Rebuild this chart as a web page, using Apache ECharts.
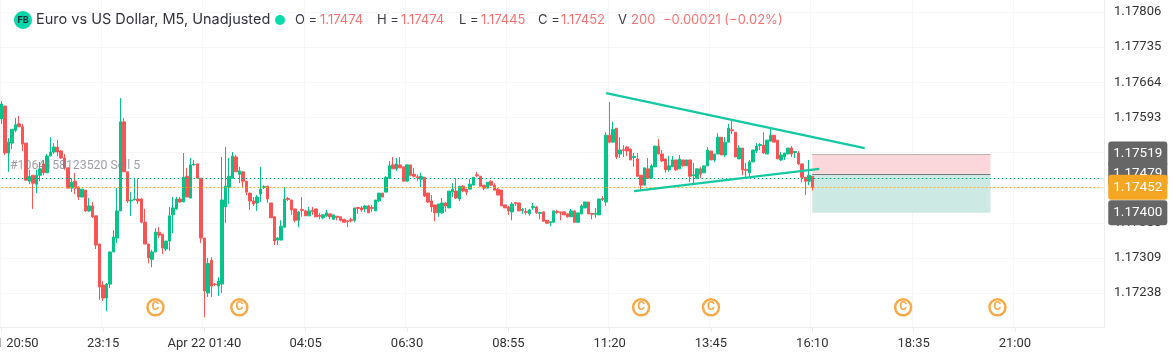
<!DOCTYPE html>
<html>
	<head>
		<meta charset="utf-8" />
		<title>EURUSD M5</title>
		<script src="https://cdn.jsdelivr.net/npm/echarts@6/dist/echarts.min.js"></script>
		<style>
			html, body { margin: 0; padding: 0; background: #fff; }
			#chart { width: 1172px; height: 358px; }
		</style>
	</head>
	<body>
		<div id="chart"></div>
	</body>
	<script type="text/javascript">
	// prices are kept as points above 1.17000 (590 = 1.17590), one candle every 5 minutes
	var opens = [
		590,616,521,541,567,580,574,541,464,476, 458,476,499,481,515,523,533,525,511,491,
		450,464,452,432,446,404,414,394,337,254, 228,256,321,349,404,584,483,424,426,428,
		428,381,337,306,321,361,357,327,343,396, 408,428,422,474,430,497,499,470,349,238,
		304,256,252,256,412,452,470,513,478,483, 464,440,424,420,438,451,454,420,392,345,
		345,371,429,426,408,385,407,404,394,405, 408,395,390,394,398,387,393,392,387,384,
		386,385,411,410,408,414,411,404,424,440, 442,470,497,489,497,493,464,497,478,473,
		468,472,440,424,416,400,400,420,410,442, 444,428,454,448,448,456,477,474,456,450,
		464,456,448,446,416,412,402,421,420,405, 403,398,411,412,399,402,385,380,381,403,
		402,402,398,392,404,381,398,410,422,399, 397,396,429,422,557,543,571,519,528,533,
		529,512,509,476,456,489,470,493,535,519, 509,487,493,507,489,507,495,507,475,470,
		489,481,495,525,507,519,553,517,543,568, 563,509,531,488,481,503,525,536,537,519,
		545,557,547,507,513,519,531,522,521,499, 472,464,474
	];
	var closes = [
		620,521,543,569,578,574,539,466,474,460, 476,489,481,515,523,533,523,511,491,450,
		462,450,432,448,404,414,392,335,250,228, 256,321,351,404,584,483,424,426,428,424,
		381,337,309,321,361,355,329,343,394,410, 428,422,472,432,497,498,470,349,242,298,
		252,255,262,426,454,474,515,483,485,464, 442,424,418,432,448,453,428,390,343,349,
		373,428,427,406,385,402,405,394,404,403, 392,393,396,400,392,396,391,385,381,382,
		384,410,409,406,414,400,409,426,440,432, 472,495,489,499,491,464,497,476,474,471,
		474,434,422,412,400,418,420,414,444,448, 430,454,444,442,458,472,475,454,450,462,
		456,446,436,414,410,404,418,419,404,407, 401,406,413,400,401,383,379,382,404,401,
		400,396,392,404,381,400,414,422,398,397, 399,428,427,557,543,569,513,527,526,525,
		507,514,474,456,491,470,495,535,519,505, 487,495,507,487,509,495,507,474,477,489,
		478,495,527,507,519,553,517,543,571,566, 513,531,487,486,503,527,535,538,521,547,
		557,543,509,517,521,531,519,524,499,472, 464,476,452
	];
	var lows = [
		580,517,483,529,563,574,525,466,458,408, 440,464,476,481,515,519,515,509,487,450,
		442,438,426,432,402,402,390,327,224,222, 201,248,321,339,404,483,420,394,426,418,
		379,337,298,290,321,349,317,323,323,359, 406,420,422,432,430,495,470,339,189,230,
		230,252,232,238,379,418,470,483,460,452, 436,406,414,404,422,448,420,390,335,335,
		345,371,424,396,381,371,392,394,394,396, 392,387,387,392,387,387,385,383,381,371,
		381,381,398,402,402,400,402,404,422,432, 442,468,489,485,491,464,464,474,472,464,
		452,432,420,402,383,392,398,402,410,432, 428,424,442,436,448,456,472,454,446,450,
		454,446,436,414,410,396,385,414,404,398, 396,394,406,398,387,383,379,373,381,398,
		385,396,390,392,381,381,398,410,398,387, 390,396,424,414,541,543,509,511,513,515,
		507,493,474,444,456,470,470,493,519,503, 481,483,493,485,489,493,495,462,458,468,
		470,481,495,507,503,519,517,513,543,559, 513,509,476,472,474,503,521,527,519,519,
		545,543,509,505,507,519,513,511,497,462, 436,456,445
	];
	var highs = [
		626,616,551,569,592,596,580,541,487,476, 487,503,507,519,553,541,547,527,519,491,
		470,481,454,448,446,430,422,394,337,262, 258,321,365,450,632,592,483,442,470,470,
		430,408,337,325,369,371,357,343,412,432, 432,432,521,491,511,507,499,470,349,309,
		311,258,270,513,533,511,523,517,493,483, 464,440,432,436,493,456,454,420,392,351,
		385,452,432,426,408,404,432,406,412,412, 408,400,396,406,398,396,394,392,387,385,
		390,410,412,414,416,416,416,426,440,440, 474,505,513,511,513,493,497,497,491,478,
		481,472,440,436,416,418,430,422,444,460, 470,454,456,448,468,472,483,474,456,462,
		466,460,450,446,416,414,422,422,420,410, 410,408,420,414,402,402,385,383,404,406,
		402,402,398,408,404,400,418,422,422,399, 410,428,434,563,624,584,571,553,537,535,
		529,521,521,476,491,511,499,535,549,527, 509,515,515,507,517,507,507,507,501,489,
		493,495,533,525,519,561,553,553,580,590, 563,537,531,501,507,527,541,541,563,547,
		571,557,547,523,521,531,535,525,525,499, 472,507,474
	];

	var xTickLabels = ['Apr 21 20:50', '23:15', 'Apr 22 01:40', '04:05', '06:30', '08:55', '11:20', '13:45', '16:10', '18:35', '21:00'];
	var barsPerTick = 29;
	var totalBars = 316;
	var yTicks = [806, 735, 664, 593, 522, 451, 380, 309, 238];

	var positionLine = 469;
	var currentPrice = 452;
	var greyTags = [519, 479, 400];

	// position box: stop / entry / target, first and last bar
	var boxBars = [232, 283];
	var boxPrices = [519, 479, 400];
	// trend lines: [bar, points]
	var upperTrend = [[173, 642], [247, 531]];
	var lowerTrend = [[181, 444], [234, 489]];
	// dividend style markers under the candles
	var markerBars = [44, 68, 183, 203, 258, 285];
	var markerLevel = 209;

	var headerParts = [
		['O = ', 295, 'dark'], ['1.17474', 320, 'red'],
		['H = ', 377, 'dark'], ['1.17474', 401, 'red'],
		['L = ', 459, 'dark'], ['1.17445', 481, 'red'],
		['C = ', 538, 'dark'], ['1.17452', 561, 'red'],
		['V', 618, 'dark'], ['200', 631, 'red'],
		['\u22120.00021 (\u22120.02%)', 663, 'red']
	];

	function price(p) {
		return 1.17 + p / 100000;
	}

	var GREEN = '#02C38A';
	var RED = '#FB5454';
	var GRID = '#f6f6f6';

	var categories = [];
	for (var i = 0; i < totalBars; i++) {
		categories.push(i % barsPerTick === 0 ? (xTickLabels[i / barsPerTick] || '') : '');
	}

	var candles = [];
	for (var i = 0; i < opens.length; i++) {
		candles.push([price(opens[i]), price(closes[i]), price(lows[i]), price(highs[i])]);
	}

	var noLabel = { show: false };

	function segment(a, b, lineStyle) {
		return [
			{ coord: [a[0], price(a[1])], lineStyle: lineStyle, label: noLabel },
			{ coord: [b[0], price(b[1])] }
		];
	}

	// price box on the right, drawn as the label of an invisible line across the chart
	function tag(p, bg) {
		return [
			{
				coord: [0, price(p)],
				lineStyle: { color: 'rgba(0,0,0,0)', width: 1 },
				label: {
					show: true,
					position: 'end',
					distance: 6,
					formatter: price(p).toFixed(5),
					color: '#fff',
					fontFamily: 'Roboto',
					fontSize: 13.5,
					backgroundColor: bg,
					borderRadius: 3,
					padding: [6, 5, 5, 5]
				}
			},
			{ coord: [totalBars - 1, price(p)] }
		];
	}

	var lastBar = totalBars - 1;
	var lineData = [
		segment([0, positionLine], [lastBar, positionLine], { color: '#06A877', width: 1.2, type: [1.5, 2.5] }),
		segment([0, currentPrice], [lastBar, currentPrice], { color: '#F5A623', width: 1.2, type: [1.5, 2.5] }),
		segment([boxBars[0], boxPrices[0]], [boxBars[1], boxPrices[0]], { color: '#b9b0b0', width: 1, type: 'solid' }),
		segment([boxBars[0], boxPrices[1]], [boxBars[1], boxPrices[1]], { color: '#777777', width: 1, type: 'solid' }),
		segment(upperTrend[0], upperTrend[1], { color: '#14C9A2', width: 2.2, type: 'solid' }),
		segment(lowerTrend[0], lowerTrend[1], { color: '#14C9A2', width: 2.2, type: 'solid' })
	];
	for (var i = 0; i < greyTags.length; i++) {
		lineData.push(tag(greyTags[i], '#666666'));
	}
	lineData.push(tag(currentPrice, '#F5A623'));

	var graphics = [
		{ type: 'circle', shape: { cx: 23, cy: 20, r: 9 }, style: { fill: '#06D6A8' }, z: 100 },
		{ type: 'text', x: 23, y: 20, style: { text: 'FB', fill: '#1d2b33', font: 'bold 9px Inter', align: 'center', verticalAlign: 'middle' }, z: 101 },
		{ type: 'text', x: 36, y: 20, style: { text: 'Euro vs US Dollar, M5, Unadjusted', fill: '#333340', font: '14.5px Inter', verticalAlign: 'middle' }, z: 100 },
		{ type: 'circle', shape: { cx: 280, cy: 20, r: 5 }, style: { fill: '#06DDAB' }, z: 100 },
		{ type: 'text', x: 10, y: 166, style: { text: '#1064158123520 Sell 5', fill: 'rgba(125,125,135,0.75)', font: '12.3px Roboto', verticalAlign: 'middle' }, z: 100 }
	];
	for (var i = 0; i < headerParts.length; i++) {
		graphics.push({
			type: 'text',
			x: headerParts[i][1],
			y: 20,
			style: {
				text: headerParts[i][0],
				fill: headerParts[i][2] === 'red' ? '#F97272' : '#3a3a48',
				font: '13px Inter',
				verticalAlign: 'middle'
			},
			z: 100
		});
	}

	var markerData = [];
	for (var i = 0; i < markerBars.length; i++) {
		markerData.push([markerBars[i], price(markerLevel)]);
	}

	var myChart = echarts.init(document.getElementById('chart'), null, { renderer: 'canvas' });
	var option = {
		animation: false,
		backgroundColor: '#fff',
		grid: { left: 0, right: 68, top: 0, bottom: 31, outerBoundsMode: 'none' },
		graphic: graphics,
		xAxis: {
			type: 'category',
			data: categories,
			boundaryGap: true,
			axisLine: { lineStyle: { color: '#ececec' } },
			axisTick: {
				show: true,
				length: 5,
				alignWithLabel: true,
				interval: function (idx) { return idx % barsPerTick === 0; },
				lineStyle: { color: '#ececec' }
			},
			axisLabel: {
				interval: function (idx) { return idx % barsPerTick === 0; },
				hideOverlap: false,
				margin: 10,
				color: '#333',
				fontFamily: 'Roboto',
				fontSize: 13
			},
			splitLine: {
				show: true,
				interval: function (idx) { return idx % barsPerTick === 0; },
				lineStyle: { color: GRID }
			}
		},
		yAxis: {
			type: 'value',
			position: 'right',
			scale: true,
			min: 1.171693,
			max: 1.178303,
			axisLine: { show: true, lineStyle: { color: '#ececec' } },
			axisTick: { show: false, customValues: yTicks.map(price) },
			axisLabel: {
				customValues: yTicks.map(price),
				margin: 10,
				padding: [3, 0, 0, 0],
				color: '#333',
				fontFamily: 'Roboto',
				fontSize: 13,
				formatter: function (v) { return v.toFixed(5); }
			},
			splitLine: { show: true, lineStyle: { color: GRID } }
		},
		series: [
			{
				type: 'candlestick',
				data: candles,
				barWidth: 3,
				itemStyle: {
					color: GREEN,
					color0: RED,
					borderColor: GREEN,
					borderColor0: RED,
					borderWidth: 1
				},
				markArea: {
					silent: true,
					data: [
						[
							{ xAxis: boxBars[0], yAxis: price(boxPrices[0]), itemStyle: { color: '#FBD7DB' } },
							{ xAxis: boxBars[1], yAxis: price(boxPrices[1]) }
						],
						[
							{ xAxis: boxBars[0], yAxis: price(boxPrices[1]), itemStyle: { color: '#CDE9E3' } },
							{ xAxis: boxBars[1], yAxis: price(boxPrices[2]) }
						]
					]
				},
				markLine: {
					silent: true,
					symbol: 'none',
					animation: false,
					data: lineData
				}
			},
			{
				type: 'scatter',
				data: markerData,
				symbol: 'circle',
				symbolSize: 16,
				itemStyle: { color: '#fff', borderColor: '#F7931A', borderWidth: 2.5 },
				label: {
					show: true,
					position: 'inside',
					formatter: 'C',
					color: '#F7931A',
					fontFamily: 'Roboto',
					fontWeight: 'bold',
					fontSize: 12
				}
			}
		]
	};
	myChart.setOption(option);
	</script>
</html>
